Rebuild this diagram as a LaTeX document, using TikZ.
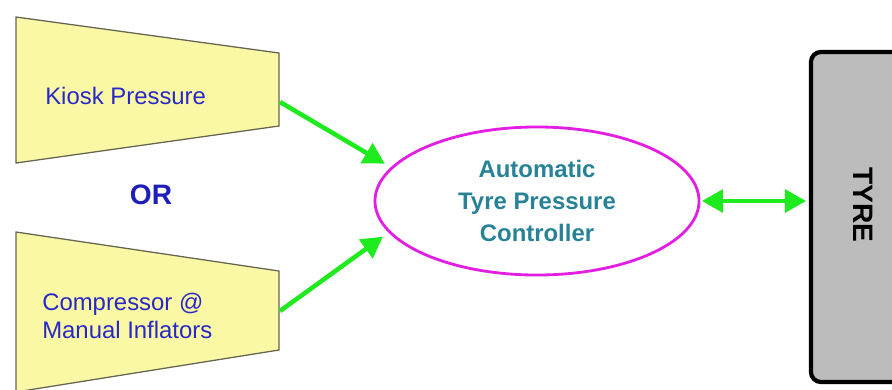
\documentclass[tikz,border=0pt]{standalone}
\usepackage{fontspec}
\setmainfont{Liberation Sans}
\usepackage{tikz}
\usetikzlibrary{positioning,arrows.meta,shapes.geometric}
\definecolor{padyellow}{RGB}{250,248,165}
\definecolor{padedge}{RGB}{100,100,80}
\definecolor{srcblue}{RGB}{40,40,200}
\definecolor{orblue}{RGB}{30,30,185}
\definecolor{ctrlteal}{RGB}{40,130,150}
\definecolor{ctrlpink}{RGB}{225,30,225}
\definecolor{flowgreen}{RGB}{30,235,30}
\definecolor{tyregray}{RGB}{188,188,188}
\tikzset{
  pad/.style   = {draw=padedge, line width=0.9pt, fill=padyellow},
  srctxt/.style= {align=left, anchor=west, text=srcblue, inner sep=0pt,
                  font=\fontsize{17}{20}\selectfont},
  ortxt/.style = {text=orblue, inner sep=0pt,
                  font=\fontsize{20}{24}\selectfont\bfseries},
  ctrl/.style  = {draw=ctrlpink, line width=2pt, ellipse, align=center,
                  text=ctrlteal, minimum width=8.1cm, minimum height=3.7cm,
                  font=\fontsize{17}{22.5}\selectfont\bfseries},
  tyrebox/.style = {draw=black, line width=3pt, fill=tyregray,
                  rounded corners=0.25cm, minimum width=2.6cm,
                  minimum height=8.25cm},
  ar/.style    = {-{Triangle[length=15pt,width=16pt]}, draw=flowgreen,
                  fill=flowgreen, line width=3.2pt},
  arr/.style   = {{Triangle[length=15pt,width=16pt]}-{Triangle[length=15pt,width=16pt]},
                  draw=flowgreen, fill=flowgreen, line width=3.2pt},
}

\begin{document}
\begin{tikzpicture}[x=0.025cm, y=-0.025cm]
\useasboundingbox (0,0) rectangle (892,389);

% ===== SOURCES =====
\draw[pad] (16,17) -- (279,53) -- (279,126) -- (16,163) -- cycle;
\node[srctxt] (kiosk) at (45,96) {Kiosk Pressure};
\coordinate (kioskout) at (280,102);

\node[ortxt] (or) at (151,195) {OR};

\draw[pad] (16,232) -- (279,271) -- (279,350) -- (16,392) -- cycle;
\node[srctxt] (comp) at (42,316) {Compressor @\\Manual Inflators};
\coordinate (compout) at (280,311);

% ===== CONTROLLER AND TYRE =====
\node[ctrl] (ctrl) at (537,201) {Automatic\\Tyre Pressure\\Controller};
\node[tyrebox] (tyre) at (863,217) {};
\node[rotate=-90, font=\fontsize{20}{22}\selectfont\bfseries] (tyretxt)
     at (863,205) {TYRE};

% ===== connections =====
\draw[ar, shorten >=5pt] (kioskout) -- (ctrl.167);
\draw[ar, shorten >=5pt] (compout) -- (ctrl.192);
\draw[arr, shorten <=1pt, shorten >=2pt] (ctrl.east) -- (ctrl.east -| tyre.west);
\end{tikzpicture}
\end{document}
